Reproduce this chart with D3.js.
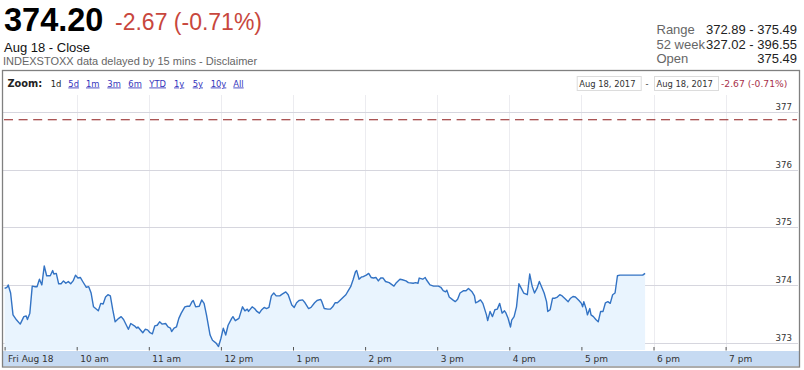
<!DOCTYPE html>
<html><head><meta charset="utf-8">
<script src="https://cdn.jsdelivr.net/npm/d3@7"></script>
<style>
html,body{margin:0;padding:0;background:#fff;}
svg{display:block;}
</style></head>
<body>
<svg id="c" width="804" height="370"></svg>
<script>
const times = ["09:00","09:02","09:03","09:05","09:07","09:10","09:13","09:16","09:18","09:19","09:21","09:23","09:25","09:27","09:29","09:31","09:33","09:35","09:38","09:40","09:41","09:43","09:45","09:47","09:49","09:51","09:53","09:55","09:57","09:59",
"10:01","10:03","10:05","10:08","10:10","10:12","10:14","10:17","10:18","10:20","10:22","10:24","10:26","10:28","10:30","10:32","10:35","10:37","10:39","10:43","10:45","10:48","10:50","10:51","10:55","10:57","10:59",
"11:01","11:03","11:05","11:07","11:09","11:11","11:14","11:16","11:18","11:19","11:21","11:23","11:25","11:27","11:30","11:32","11:34","11:36","11:37","11:39","11:42","11:44","11:46","11:48","11:51","11:53","11:56","11:58",
"12:00","12:02","12:04","12:06","12:09","12:10","12:12","12:15","12:18","12:20","12:22","12:23","12:26","12:28","12:30","12:32","12:34","12:36","12:38","12:40","12:42","12:44","12:46","12:49","12:51","12:54","12:56","12:59",
"13:01","13:03","13:05","13:08","13:10","13:13","13:15","13:18","13:20","13:23","13:24","13:26","13:29","13:31","13:33","13:35","13:37","13:39","13:42","13:44","13:46","13:48","13:50","13:52","13:53","13:55","13:57","13:58",
"14:01","14:03","14:05","14:07","14:09","14:11","14:13","14:15","14:17","14:20","14:24","14:26","14:29","14:31","14:34","14:36","14:40","14:42","14:44","14:45","14:48","14:50","14:51","14:54","14:57",
"15:01","15:03","15:05","15:07","15:08","15:10","15:13","15:15","15:17","15:19","15:22","15:24","15:26","15:29","15:31","15:32","15:34","15:36","15:38","15:41","15:42","15:44","15:46","15:48","15:50","15:52","15:54","15:56","15:57","15:59",
"16:01","16:02","16:04","16:06","16:08","16:10","16:12","16:15","16:17","16:19","16:21","16:23","16:25","16:27","16:29","16:31","16:32","16:34","16:36","16:38","16:40","16:42","16:44","16:46","16:49","16:51","16:53","16:55","16:58",
"17:00","17:01","17:02","17:04","17:05","17:07","17:08","17:10","17:12","17:14","17:16","17:18","17:20","17:22","17:24","17:26","17:28","17:30","17:32","17:51","17:53"];
const values = [373.94,373.96,374.00,373.86,373.48,373.39,373.32,373.45,373.46,373.40,373.51,373.98,373.97,373.97,374.10,374.00,374.33,374.16,374.16,374.25,374.19,374.20,374.02,374.02,374.07,374.03,374.06,374.02,374.07,374.17,
374.12,374.13,374.06,373.96,373.97,373.86,373.62,373.57,373.55,373.68,373.67,373.79,373.83,373.81,373.57,373.36,373.42,373.45,373.40,373.23,373.33,373.29,373.25,373.27,373.17,373.23,373.22,
373.17,373.15,373.29,373.30,373.36,373.32,373.33,373.27,373.25,373.19,373.25,373.27,373.42,373.51,373.62,373.63,373.63,373.71,373.73,373.62,373.63,373.74,373.68,373.48,373.13,373.04,372.99,372.93,
373.07,373.25,373.13,373.30,373.42,373.45,373.38,373.42,373.62,373.55,373.58,373.54,373.62,373.59,373.54,373.51,373.57,373.61,373.59,373.61,373.81,373.86,373.81,373.81,373.84,373.88,373.83,373.65,
373.61,373.69,373.73,373.74,373.69,373.59,373.61,373.69,373.73,373.75,373.71,373.59,373.58,373.58,373.62,373.69,373.69,373.73,373.79,373.83,373.90,373.97,374.09,374.23,374.25,374.10,374.14,374.14,
374.17,374.20,374.13,374.12,374.13,374.07,374.12,374.12,374.06,374.04,373.98,374.04,374.10,374.09,374.07,374.04,374.03,374.04,374.03,374.12,374.10,374.13,374.09,374.00,373.98,
373.98,373.96,373.90,373.88,373.91,373.79,373.74,373.71,373.75,373.86,373.90,373.90,373.94,373.88,373.81,373.69,373.71,373.74,373.68,373.48,373.38,373.54,373.45,373.57,373.58,373.68,373.51,373.55,373.52,373.42,
373.27,373.39,373.45,373.62,374.02,373.94,373.86,373.83,374.19,373.98,373.86,373.94,374.06,373.96,373.86,373.71,373.54,373.57,373.77,373.77,373.79,373.83,373.81,373.77,373.71,373.77,373.80,373.79,373.73,
373.68,373.62,373.71,373.58,373.48,373.59,373.48,373.45,373.40,373.36,373.54,373.54,373.69,373.71,373.68,373.83,373.86,374.16,374.17,374.17,374.20];

const tickTimes = ["09:00","10:00","11:00","12:00","13:00","14:00","15:00","16:00","17:00","18:00","19:00"];
const tickLabels = ["Fri Aug 18","10 am","11 am","12 pm","1 pm","2 pm","3 pm","4 pm","5 pm","6 pm","7 pm"];
const yTicks = [373, 374, 375, 376, 377];
const prevClose = 376.87;
const zoomLinks = ["1d","5d","1m","3m","6m","YTD","1y","5y","10y","All"];
const statLabels = ["Range","52 week","Open"];
const statValues = ["372.89 - 375.49","327.02 - 396.55","375.49"];

const parse = d3.timeParse("%H:%M");
const data = times.map((t,i)=>({t:parse(t), v:values[i]}));

const svg = d3.select("#c");
const HF = "'Liberation Sans', Arial, sans-serif";
const CF = "'DejaVu Sans', Verdana, sans-serif";

// Header
svg.append("text").attr("x",4).attr("y",31).attr("font-family",HF).attr("font-weight","bold")
  .attr("font-size",32.5).attr("fill","#000").text("374.20");
svg.append("text").attr("x",115).attr("y",30).attr("font-family",HF)
  .attr("font-size",23).attr("fill","#c8473d").text("-2.67 (-0.71%)");
svg.append("text").attr("x",4).attr("y",52).attr("font-family",HF)
  .attr("font-size",13).attr("fill","#111").text("Aug 18 - Close");
svg.append("text").attr("x",3).attr("y",64.5).attr("font-family",HF)
  .attr("font-size",11).attr("fill","#666").text("INDEXSTOXX data delayed by 15 mins - Disclaimer");
statLabels.forEach((s,i)=>{
  svg.append("text").attr("x",656.5).attr("y",34+i*14.5).attr("font-family",HF)
    .attr("font-size",13).attr("fill","#666").text(s);
  svg.append("text").attr("x",797).attr("y",34+i*14.5).attr("font-family",HF).attr("text-anchor","end")
    .attr("font-size",13).attr("fill","#222").text(statValues[i]);
});

// Chart frame
const pLeft = 4.6, pRight = 797.7, pTop = 95, pBottom = 350;
const x = d3.scaleTime().domain([parse("09:00"), parse("20:00")]).range([pLeft, pRight]);
const y = d3.scaleLinear().domain([372.87, 377.30]).range([pBottom, pTop]);

// x band
svg.append("rect").attr("x",3).attr("y",351).attr("width",796).attr("height",15).attr("fill","#c6daf2");

// vertical gridlines
svg.append("g").selectAll("line").data(tickTimes.slice(1)).join("line")
  .attr("x1",d=>Math.round(x(parse(d)))+0.5).attr("x2",d=>Math.round(x(parse(d)))+0.5)
  .attr("y1",pTop).attr("y2",pBottom).attr("stroke","#ececf0").attr("stroke-width",1);

// horizontal gridlines
svg.append("g").selectAll("line").data(yTicks).join("line")
  .attr("x1",3).attr("x2",798).attr("y1",d=>Math.round(y(d))+0.5).attr("y2",d=>Math.round(y(d))+0.5)
  .attr("stroke","#d6d6de").attr("stroke-width",1);

// area + line
const area = d3.area().x(d=>x(d.t)).y0(pBottom).y1(d=>y(d.v));
svg.append("path").datum(data).attr("d",area).attr("fill","#e9f4fe");
const line = d3.line().x(d=>x(d.t)).y(d=>y(d.v));
svg.append("path").datum(data).attr("d",line).attr("fill","none")
  .attr("stroke","#3373c4").attr("stroke-width",1.4).attr("stroke-linejoin","round");

// previous close dashed line
svg.append("line").attr("x1",4).attr("x2",797).attr("y1",y(prevClose)).attr("y2",y(prevClose))
  .attr("stroke","#8e1c1c").attr("stroke-width",1.2).attr("stroke-dasharray","9,5.6");

// y axis labels
const yAxis = d3.axisRight(y).tickValues(yTicks).tickSize(0).tickFormat(d3.format("d"));
const gy = svg.append("g").attr("transform","translate(792,0)").call(yAxis);
gy.select(".domain").remove();
gy.selectAll("text").attr("x",0).attr("dy",-2.5).attr("text-anchor","end")
  .attr("font-family",CF).attr("font-size",8.6).attr("fill","#333");

// x axis
const xAxis = d3.axisBottom(x).tickValues(tickTimes.map(parse)).tickSize(3.5)
  .tickFormat((d,i)=>tickLabels[i]);
const gx = svg.append("g").attr("transform","translate(0,347)").call(xAxis);
gx.select(".domain").remove();
gx.selectAll(".tick line").attr("stroke","#555");
gx.selectAll("text").attr("y",14.5).attr("dy",0).attr("dx",3).attr("text-anchor","start")
  .attr("font-family",CF).attr("font-size",9).attr("fill","#333");

// zoom row
svg.append("text").attr("x",7.5).attr("y",86.5).attr("font-family",CF).attr("font-weight","bold")
  .attr("font-size",9.8).attr("fill","#222").text("Zoom:");
const linkX = [50.7,68.3,86,107.3,128.3,149.3,174,192.7,210.7,233.3];
zoomLinks.forEach((l,i)=>{
  svg.append("text").attr("x",linkX[i]).attr("y",86.5).attr("font-family",CF)
    .attr("font-size",8.4).attr("fill", i===0 ? "#222" : "#3333bb")
    .attr("text-decoration", i===0 ? "none" : "underline").text(l);
});

// date range boxes
[[576.7,"Aug 18, 2017"],[654,"Aug 18, 2017"]].forEach(([bx,t])=>{
  svg.append("rect").attr("x",bx+0.5).attr("y",76.5).attr("width",64).attr("height",14)
    .attr("fill","#fff").attr("stroke","#dcdcdc");
  svg.append("text").attr("x",bx+2.5).attr("y",87).attr("font-family",CF).attr("font-size",8.4)
    .attr("fill","#333").text(t);
});
svg.append("text").attr("x",645.5).attr("y",87).attr("font-family",CF).attr("font-size",8.4)
  .attr("fill","#333").text("-");
svg.append("text").attr("x",721).attr("y",87).attr("font-family",CF).attr("font-size",9.2)
  .attr("fill","#a8304a").text("-2.67 (-0.71%)");

// frame
svg.append("rect").attr("x",2.5).attr("y",70.5).attr("width",797).attr("height",296.5)
  .attr("fill","none").attr("stroke","#808080").attr("stroke-width",1.3);
</script>
</body></html>
